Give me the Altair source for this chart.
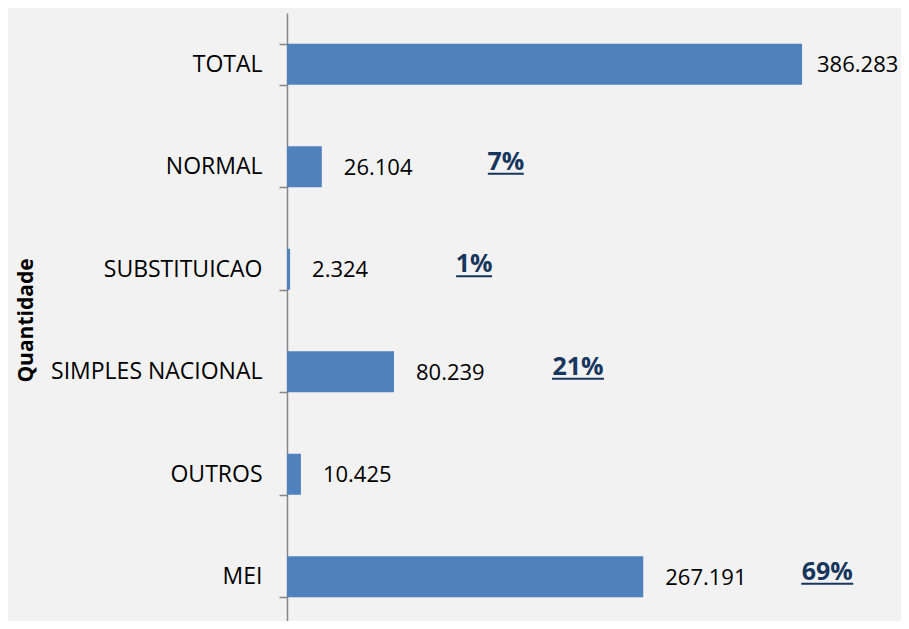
import altair as alt
import pandas as pd

categories = ["TOTAL", "NORMAL", "SUBSTITUICAO", "SIMPLES NACIONAL", "OUTROS", "MEI"]
values = [386283, 26104, 2324, 80239, 10425, 267191]
value_labels = ["386.283", "26.104", "2.324", "80.239", "10.425", "267.191"]
pct_labels = ["", "7%", "1%", "21%", "", "69%"]

df = pd.DataFrame({
    "category": categories,
    "value": values,
    "vlabel": value_labels,
    "pct": pct_labels,
})

FONT = "Open Sans"
AXIS_GRAY = "#868686"
PCT_COLOR = "#17365d"

y = alt.Y(
    "category:N",
    sort=categories,
    scale=alt.Scale(range=[0, 615], paddingInner=0.6, paddingOuter=0.3),
    axis=alt.Axis(
        title="Quantidade",
        titleFont=FONT,
        titleFontSize=21,
        titleFontWeight="bold",
        titleColor="#000000",
        titleAngle=270,
        titleX=-261,
        titleY=307,
        titleAlign="center",
        titleBaseline="middle",
        labelFont=FONT,
        labelFontSize=23,
        labelColor="#000000",
        labelPadding=17,
        labelLimit=400,
        domainColor=AXIS_GRAY,
        domainWidth=1.5,
        tickColor=AXIS_GRAY,
        tickWidth=1.5,
        tickSize=8,
        tickBand="extent",
        grid=False,
    ),
)
x = alt.X("value:Q", scale=alt.Scale(domain=[0, 429000]), axis=None)

base = alt.Chart(df)

bars = base.mark_bar(color="#4f81bd").encode(x=x, y=y)

vals = base.transform_filter("datum.category != 'TOTAL'").mark_text(
    align="left", baseline="middle", dx=22, dy=1,
    font=FONT, fontSize=22, color="#000000",
).encode(x=x, y=y, text="vlabel:N")

vals_total = base.transform_filter("datum.category == 'TOTAL'").mark_text(
    align="left", baseline="middle", dx=15, dy=1,
    font=FONT, fontSize=22, color="#000000",
).encode(x=x, y=y, text="vlabel:N")

pcts = base.transform_filter("datum.pct != ''").mark_text(
    align="center", baseline="middle", dx=184, dy=-5,
    font=FONT, fontSize=25, fontWeight="bold", color=PCT_COLOR,
).encode(x=x, y=y, text="pct:N")

ul2 = base.transform_filter("length(datum.pct) == 2").mark_rule(
    color=PCT_COLOR, strokeWidth=2, xOffset=166, x2Offset=202, yOffset=7,
).encode(x=x, x2=alt.X2("value:Q"), y=y)

ul3 = base.transform_filter("length(datum.pct) == 3").mark_rule(
    color=PCT_COLOR, strokeWidth=2, xOffset=158, x2Offset=210, yOffset=7,
).encode(x=x, x2=alt.X2("value:Q"), y=y)

chart = alt.layer(bars, vals, vals_total, pcts, ul2, ul3).properties(
    width=572,
    height=608,
    background="#f2f2f2",
    autosize=alt.AutoSizeParams(type="none"),
    padding={"left": 279, "top": 5, "right": 42, "bottom": 0},
).configure_view(stroke=None)

chart.save("out.html", embed_options={"renderer": "svg", "actions": False})
